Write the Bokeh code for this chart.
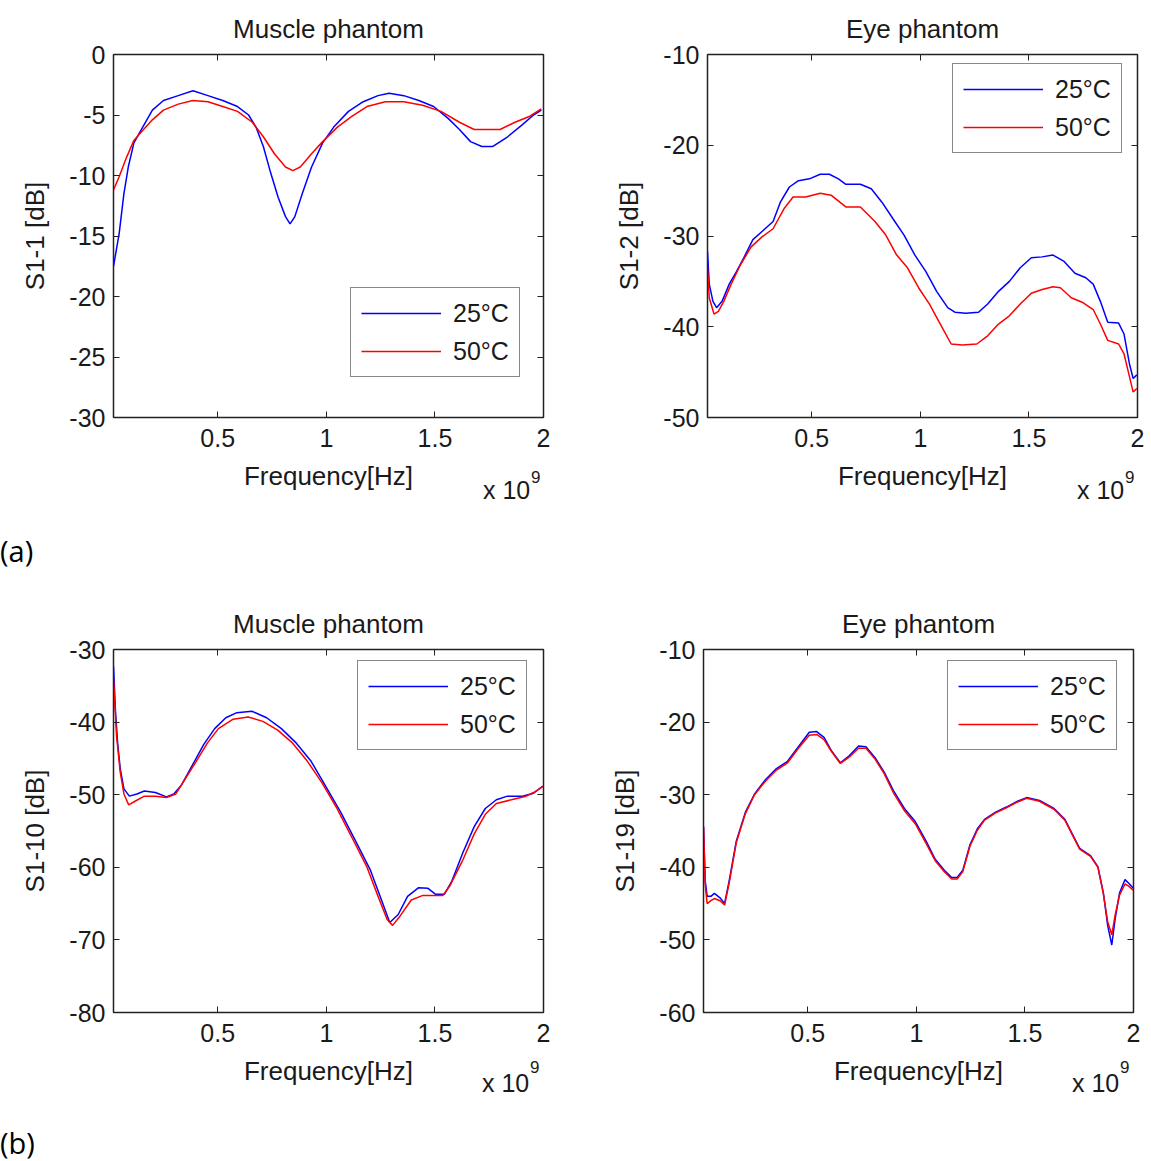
from bokeh.plotting import figure
from bokeh.models import LinearAxis, Range1d, FixedTicker, Legend, LegendItem, Div
from bokeh.layouts import column, row
from bokeh.embed import file_html
from bokeh.resources import INLINE

# ---------------- data (frequency in units of 1e9 Hz, S-parameters in dB) -------------
XMIN, XMAX = 0.02, 2.0
x_ticks = [0.5, 1, 1.5, 2]
x_tick_labels = ["0.5", "1", "1.5", "2"]
legend_labels = ["25°C", "50°C"]
x_scale_text = "x 10"
x_scale_exp = "9"
panel_tags = ["(a)", "(b)"]

# (a) left: Muscle phantom, S1-1
f1_25 = [0.02, 0.046, 0.068, 0.088, 0.114, 0.148, 0.199, 0.25, 0.318, 0.386, 0.455, 0.523, 0.591,
         0.642, 0.676, 0.71, 0.744, 0.778, 0.812, 0.833, 0.855, 0.889, 0.932, 0.983, 1.034, 1.102,
         1.17, 1.238, 1.289, 1.357, 1.426, 1.494, 1.562, 1.613, 1.664, 1.716, 1.767, 1.835, 1.903,
         1.954, 1.99]
s1_25 = [-17.5, -14.8, -11.5, -9.3, -7.3, -6.2, -4.6, -3.8, -3.4, -3.0, -3.4, -3.8, -4.3, -5.0,
         -6.0, -7.6, -9.8, -11.8, -13.4, -14.0, -13.4, -11.5, -9.3, -7.3, -6.0, -4.7, -3.9, -3.4,
         -3.2, -3.4, -3.8, -4.3, -5.3, -6.2, -7.2, -7.6, -7.6, -6.8, -5.8, -5.0, -4.6]
f1_50 = [0.02, 0.046, 0.08, 0.114, 0.148, 0.199, 0.25, 0.318, 0.386, 0.455, 0.523, 0.591, 0.659,
         0.71, 0.761, 0.812, 0.846, 0.88, 0.932, 0.983, 1.051, 1.119, 1.187, 1.272, 1.357, 1.443,
         1.528, 1.613, 1.681, 1.75, 1.8, 1.869, 1.937, 1.99]
s1_50 = [-11.2, -10.1, -8.5, -7.1, -6.4, -5.4, -4.6, -4.1, -3.8, -3.9, -4.3, -4.7, -5.6, -6.8,
         -8.2, -9.3, -9.6, -9.3, -8.2, -7.2, -6.0, -5.1, -4.3, -3.9, -3.9, -4.2, -4.7, -5.6, -6.2,
         -6.2, -6.2, -5.6, -5.1, -4.5]

# (a) right: Eye phantom, S1-2
f2_25 = [0.02, 0.028, 0.045, 0.062, 0.087, 0.12, 0.154, 0.187, 0.229, 0.271, 0.322, 0.355, 0.397,
         0.439, 0.489, 0.539, 0.581, 0.623, 0.657, 0.724, 0.774, 0.824, 0.874, 0.925, 0.975, 1.025,
         1.075, 1.126, 1.159, 1.209, 1.268, 1.31, 1.36, 1.41, 1.46, 1.511, 1.561, 1.611, 1.662,
         1.712, 1.762, 1.796, 1.829, 1.863, 1.913, 1.938, 1.963, 1.98, 1.997]
s2_25 = [-31.7, -35.3, -37.2, -37.9, -37.2, -35.3, -33.9, -32.4, -30.4, -29.5, -28.4, -26.3, -24.6,
         -23.9, -23.7, -23.2, -23.2, -23.7, -24.3, -24.3, -24.8, -26.3, -28.1, -29.9, -32.1, -33.9,
         -36.1, -37.9, -38.4, -38.5, -38.4, -37.5, -36.1, -35.0, -33.5, -32.4, -32.3, -32.1, -32.8,
         -34.1, -34.6, -35.3, -37.2, -39.5, -39.6, -40.8, -44.1, -45.7, -45.3]
f2_50 = [0.02, 0.028, 0.05, 0.07, 0.095, 0.129, 0.171, 0.221, 0.271, 0.322, 0.372, 0.414, 0.472,
         0.539, 0.589, 0.657, 0.724, 0.791, 0.841, 0.891, 0.941, 0.992, 1.042, 1.092, 1.142, 1.193,
         1.26, 1.31, 1.36, 1.41, 1.46, 1.511, 1.561, 1.611, 1.645, 1.695, 1.745, 1.796, 1.829,
         1.863, 1.913, 1.938, 1.963, 1.98, 1.997]
s2_50 = [-33.5, -36.8, -38.6, -38.3, -37.2, -35.3, -33.2, -31.2, -30.1, -29.2, -27.0, -25.7, -25.7,
         -25.3, -25.5, -26.8, -26.8, -28.4, -29.9, -32.1, -33.5, -35.7, -37.5, -39.7, -41.9, -42.0,
         -41.9, -41.0, -39.7, -38.8, -37.5, -36.3, -35.9, -35.6, -35.7, -36.8, -37.3, -38.1, -39.7,
         -41.5, -41.9, -43.0, -45.5, -47.2, -46.8]

# (b) left: Muscle phantom, S1-10
f3_25 = [0.02, 0.029, 0.039, 0.051, 0.068, 0.093, 0.128, 0.162, 0.213, 0.264, 0.298, 0.332, 0.384,
         0.435, 0.486, 0.537, 0.588, 0.657, 0.725, 0.793, 0.862, 0.93, 0.998, 1.066, 1.135, 1.203,
         1.254, 1.292, 1.331, 1.374, 1.425, 1.468, 1.502, 1.544, 1.578, 1.63, 1.681, 1.732, 1.783,
         1.834, 1.903, 1.954, 1.997]
s3_25 = [-32.3, -38.4, -42.9, -46.4, -49.2, -50.2, -49.9, -49.5, -49.7, -50.3, -49.9, -48.7, -45.9,
         -43.1, -40.9, -39.4, -38.7, -38.5, -39.4, -40.9, -42.9, -45.4, -48.9, -52.4, -56.4, -60.4,
         -64.5, -67.6, -66.5, -64.0, -62.8, -62.9, -63.7, -63.7, -61.9, -57.9, -54.4, -51.9, -50.7,
         -50.2, -50.2, -49.8, -48.8]
f3_50 = [0.02, 0.034, 0.051, 0.068, 0.09, 0.119, 0.162, 0.213, 0.264, 0.307, 0.349, 0.401, 0.452,
         0.503, 0.571, 0.64, 0.708, 0.776, 0.845, 0.913, 0.981, 1.049, 1.118, 1.186, 1.237, 1.28,
         1.305, 1.34, 1.391, 1.442, 1.493, 1.536, 1.57, 1.63, 1.681, 1.732, 1.783, 1.852, 1.92,
         1.954, 1.997]
s3_50 = [-34.0, -41.9, -46.9, -49.9, -51.4, -50.9, -50.2, -50.2, -50.4, -49.9, -47.9, -45.4, -42.9,
         -40.9, -39.6, -39.3, -39.9, -41.1, -42.9, -45.4, -48.4, -51.9, -55.9, -59.9, -63.9, -67.2,
         -68.0, -66.7, -64.5, -63.9, -63.9, -63.9, -62.5, -58.9, -55.4, -52.7, -51.2, -50.7, -50.2,
         -49.7, -48.9]

# (b) right: Eye phantom, S1-19
f4_25 = [0.02, 0.028, 0.037, 0.054, 0.07, 0.096, 0.117, 0.138, 0.171, 0.213, 0.255, 0.306, 0.356,
         0.407, 0.457, 0.507, 0.541, 0.575, 0.608, 0.65, 0.692, 0.734, 0.768, 0.81, 0.852, 0.894,
         0.945, 0.995, 1.045, 1.087, 1.129, 1.163, 1.188, 1.214, 1.247, 1.281, 1.314, 1.365, 1.415,
         1.466, 1.508, 1.567, 1.634, 1.684, 1.718, 1.752, 1.802, 1.836, 1.861, 1.881, 1.9, 1.916,
         1.936, 1.961, 1.978, 2.0]
s4_25 = [-34.4, -41.9, -44.0, -44.0, -43.6, -44.2, -45.0, -41.9, -36.4, -32.4, -29.9, -27.9, -26.4,
         -25.4, -23.4, -21.4, -21.3, -22.1, -23.9, -25.6, -24.6, -23.3, -23.4, -24.9, -26.9, -29.4,
         -31.9, -33.7, -36.4, -38.9, -40.4, -41.4, -41.4, -40.4, -36.9, -34.7, -33.4, -32.4, -31.7,
         -30.9, -30.4, -30.8, -31.9, -33.4, -35.4, -37.4, -38.4, -39.9, -43.5, -48.0, -50.7, -47.0,
         -43.5, -41.7, -42.2, -42.9]
f4_50 = [0.02, 0.028, 0.037, 0.054, 0.07, 0.096, 0.117, 0.138, 0.171, 0.213, 0.255, 0.306, 0.356,
         0.407, 0.457, 0.507, 0.541, 0.575, 0.608, 0.65, 0.692, 0.734, 0.768, 0.81, 0.852, 0.894,
         0.945, 0.995, 1.045, 1.087, 1.129, 1.163, 1.188, 1.214, 1.247, 1.281, 1.314, 1.365, 1.415,
         1.466, 1.508, 1.567, 1.634, 1.684, 1.718, 1.752, 1.802, 1.836, 1.861, 1.881, 1.9, 1.916,
         1.936, 1.961, 1.978, 2.0]
s4_50 = [-34.4, -42.5, -45.0, -44.6, -44.3, -44.6, -45.2, -42.2, -36.6, -32.6, -30.0, -28.1, -26.6,
         -25.6, -23.6, -21.8, -21.7, -22.4, -24.0, -25.7, -24.8, -23.6, -23.6, -25.1, -27.1, -29.7,
         -32.2, -34.0, -36.7, -39.1, -40.6, -41.6, -41.6, -40.6, -37.1, -34.9, -33.5, -32.5, -31.8,
         -31.0, -30.5, -30.9, -32.0, -33.5, -35.5, -37.5, -38.5, -40.0, -43.6, -47.5, -49.3, -46.5,
         -43.8, -42.3, -42.6, -43.2]

# ---------------- styling --------------------------------------------------------------
FONT = "Liberation Sans"
FS = "25px"
FS_LAB = "26px"
TXT = "#1a1a1a"
AX = "#222222"
BLUE = "#0000ff"
RED = "#ff0000"


def mirror_axis(ticks):
    # tick marks only (drawn as the ticker's minor ticks, pointing inward); no labels
    return LinearAxis(ticker=FixedTicker(ticks=[], minor_ticks=ticks),
                      major_tick_in=0, major_tick_out=0, major_tick_line_color=None,
                      minor_tick_in=6, minor_tick_out=0, minor_tick_line_color=AX,
                      axis_line_color=AX)


def panel(title, ylab, yr, yticks, f25, s25, f50, s50, w, h, bl, br, bt, bb, leg_xy):
    p = figure(width=w, height=h, x_range=Range1d(XMIN, XMAX), y_range=Range1d(*yr),
               output_backend="svg", toolbar_location=None, title=title,
               min_border_left=bl, min_border_right=br, min_border_top=bt, min_border_bottom=bb,
               background_fill_color="white", border_fill_color="white")
    p.grid.visible = False
    p.outline_line_color = AX
    p.outline_line_width = 1.5
    p.title.text_font = FONT
    p.title.text_font_size = FS_LAB
    p.title.text_font_style = "normal"
    p.title.text_color = TXT
    p.title.align = "center"
    p.title.standoff = 22

    p.xaxis.ticker = FixedTicker(ticks=x_ticks)
    p.xaxis.major_label_overrides = {t: l for t, l in zip(x_ticks, x_tick_labels)}
    p.yaxis.ticker = FixedTicker(ticks=yticks)
    p.yaxis.major_label_overrides = {t: str(t) for t in yticks}
    p.xaxis.axis_label = "Frequency[Hz]"
    p.yaxis.axis_label = ylab
    for ax in (p.xaxis[0], p.yaxis[0]):
        ax.major_label_text_font = FONT
        ax.major_label_text_font_size = FS
        ax.major_label_text_color = TXT
        ax.axis_label_text_font = FONT
        ax.axis_label_text_font_size = FS_LAB
        ax.axis_label_text_font_style = "normal"
        ax.axis_label_text_color = TXT
        ax.major_tick_in = 6
        ax.major_tick_out = 0
        ax.minor_tick_line_color = None
        ax.axis_line_color = AX
        ax.major_tick_line_color = AX
    p.xaxis.major_label_standoff = 11
    p.yaxis.major_label_standoff = 8
    p.xaxis.axis_label_standoff = 11
    p.yaxis.axis_label_standoff = 16

    p.add_layout(mirror_axis(x_ticks), "above")
    p.add_layout(mirror_axis(yticks), "right")

    r1 = p.line(f25, s25, line_color=BLUE, line_width=1.5)
    r2 = p.line(f50, s50, line_color=RED, line_width=1.5)

    leg = Legend(items=[LegendItem(label=legend_labels[0], renderers=[r1]),
                        LegendItem(label=legend_labels[1], renderers=[r2])],
                 location=leg_xy, label_text_font=FONT, label_text_font_size=FS,
                 label_text_color=TXT, glyph_width=80, glyph_height=20, label_standoff=12,
                 label_height=30, padding=10, spacing=8, border_line_color="#111111",
                 border_line_width=1.5, background_fill_color="white", background_fill_alpha=1.0)
    p.add_layout(leg)
    return p


p1 = panel("Muscle phantom", "S1-1 [dB]", (-30, 0), [0, -5, -10, -15, -20, -25, -30],
           f1_25, s1_25, f1_50, s1_50, 600, 500, 113, 57, 54, 82, (237, 40))
p2 = panel("Eye phantom", "S1-2 [dB]", (-50, -10), [-10, -20, -30, -40, -50],
           f2_25, s2_25, f2_50, s2_50, 551, 500, 107, 14, 51, 83, (245, 264))
p3 = panel("Muscle phantom", "S1-10 [dB]", (-80, -30), [-30, -40, -50, -60, -70, -80],
           f3_25, s3_25, f3_50, s3_50, 600, 500, 113, 57, 59, 78, (244, 262))
p4 = panel("Eye phantom", "S1-19 [dB]", (-60, -10), [-10, -20, -30, -40, -50, -60],
           f4_25, s4_25, f4_50, s4_50, 551, 500, 103, 18, 59, 78, (244, 262))


def strip_html(height, x10_lefts, x10_top, exp_top, tag, tag_top):
    parts = ['<div style="position:relative;width:1151px;height:%dpx;color:%s;">' % (height, TXT)]
    for left in x10_lefts:
        parts.append('<span style="position:absolute;left:%dpx;top:%dpx;font-family:\'%s\';'
                     'font-size:25px;line-height:28px;white-space:nowrap;">%s</span>'
                     % (left, x10_top, FONT, x_scale_text))
        parts.append('<span style="position:absolute;left:%dpx;top:%dpx;font-family:\'%s\';'
                     'font-size:17px;line-height:20px;">%s</span>'
                     % (left + 48, exp_top, FONT, x_scale_exp))
    parts.append('<span style="position:absolute;left:0px;top:%dpx;font-family:\'Open Sans\';'
                 'font-size:29px;line-height:40px;color:#000;">%s</span>' % (tag_top, tag))
    parts.append('</div>')
    return "".join(parts)


div_a = Div(text=strip_html(126, [483, 1077], 12, 4, panel_tags[0], 67),
            width=1151, height=126, margin=(-36, 0, 0, 0),
            styles={"position": "relative", "z-index": "10"})
div_b = Div(text=strip_html(107, [482, 1072], 15, 4, panel_tags[1], 69),
            width=1151, height=107, margin=(-36, 0, 0, 0),
            styles={"position": "relative", "z-index": "10"})

layout = column(row(p1, p2), div_a, row(p3, p4), div_b)

open("out.html", "w").write(file_html(layout, INLINE))
